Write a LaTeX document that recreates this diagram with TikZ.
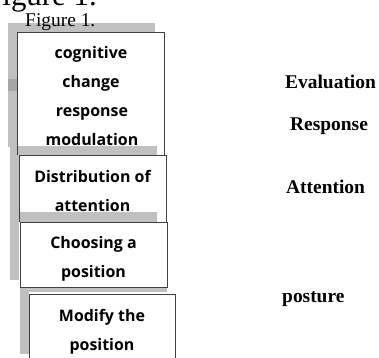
\documentclass[tikz,border=0pt]{standalone}
\usepackage{fontspec}
\setmainfont{Liberation Serif}
\newfontfamily\boxfont{Open Sans}
\definecolor{barGray}{RGB}{192,192,192}
\definecolor{darkBar}{RGB}{166,166,166}
\definecolor{edgeGray}{RGB}{64,64,64}
\begin{document}
\begin{tikzpicture}[x=1bp,y=-1bp,
  bar/.style={fill=barGray,draw=none},
  boxedge/.style={draw=edgeGray,line width=0.8bp},
  boxtext/.style={font=\boxfont\bfseries\fontsize{16}{29}\selectfont,align=center,inner sep=0pt,anchor=base},
  sidelabel/.style={font=\bfseries\fontsize{19.5}{22}\selectfont,anchor=base west,inner sep=0pt}]
\clip (0,0) rectangle (379,358);
\fill[white] (0,0) rectangle (379,358);
% titles
\node[font=\fontsize{31}{34}\selectfont,anchor=base east,inner sep=0pt] (bigtitle) at (97,5) {Figure 1.};
% gray bars
\fill[bar] (8,23) rectangle (155,32);
\fill[bar] (8,23) rectangle (17,147);
\fill[darkBar] (8,79) rectangle (17,91);
\fill[bar] (10,145) rectangle (19,280);
\node[font=\fontsize{19.5}{22}\selectfont,anchor=base west,inner sep=0pt] (title) at (25,26) {Figure 1.};
% box 1
\fill[white] (17,32) rectangle (164,100);
\draw[boxedge] (17,32) rectangle (164,100);
% box 2
\fill[white] (17.5,100) rectangle (164.5,155);
\fill[bar] (18,146) rectangle (157,155);
\draw[boxedge] (17.5,100) -- (17.5,155);
\draw[boxedge] (164.5,88) -- (164.5,155);
% box 3
\fill[white] (19.5,155) rectangle (166,222);
\fill[bar] (20,212) rectangle (157,222);
\draw[boxedge] (19.5,222) -- (19.5,155) -- (166,155) -- (166,222);
% box 4
\fill[white] (20,222) rectangle (167,287);
\fill[bar] (20,287) rectangle (167,292);
\fill[bar] (20,287) rectangle (29,354);
\draw[boxedge] (20,222) rectangle (167,287);
% box 5
\fill[white] (29,294) rectangle (175,370);
\draw[boxedge] (29,294) rectangle (175,370);
% box texts (anchor = baseline of the last line)
\node[boxtext] (t1) at (91,87.5) {cognitive\\change};
\node[boxtext] (t2) at (92,145) {response\\modulation};
\node[boxtext] (t3) at (92.5,211.5) {Distribution of\\attention};
\node[boxtext] (t4) at (93.5,277) {Choosing a\\position};
\node[boxtext] (t5) at (102,350.5) {Modify the\\position};
% side labels
\node[sidelabel] (l1) at (285,88) {Evaluation};
\node[sidelabel] (l2) at (290,130) {Response};
\node[sidelabel] (l3) at (286,193) {Attention};
\node[sidelabel] (l4) at (282,302) {posture};
\end{tikzpicture}
\end{document}
